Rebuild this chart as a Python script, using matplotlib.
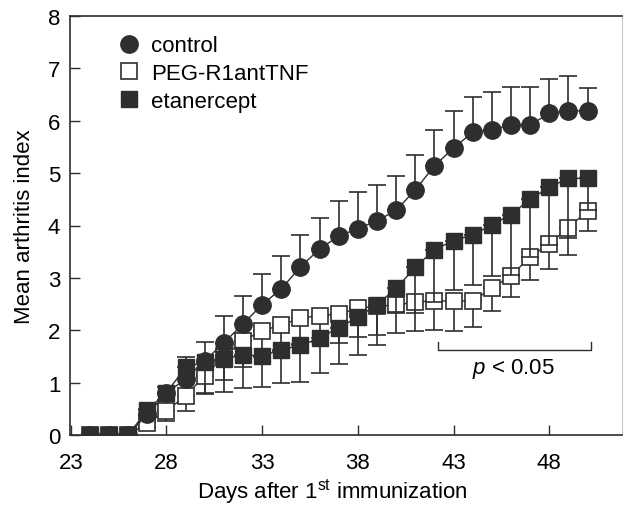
import matplotlib
matplotlib.use('Agg')
import matplotlib.pyplot as plt
from matplotlib.lines import Line2D

plt.rcParams['font.family'] = ['Liberation Sans', 'DejaVu Sans']
plt.rcParams['mathtext.fontset'] = 'custom'
plt.rcParams['mathtext.rm'] = 'Liberation Sans'
plt.rcParams['mathtext.it'] = 'Liberation Sans:italic'

# days after 1st immunization
days = list(range(24, 51))

# mean arthritis index (days 24..50)
control = [0, 0, 0, 0.40, 0.80, 1.07, 1.42, 1.76, 2.12, 2.49, 2.79, 3.21, 3.55, 3.80,
           3.94, 4.09, 4.29, 4.68, 5.14, 5.48, 5.78, 5.83, 5.92, 5.92, 6.14, 6.19, 6.19]
control_err = [0, 0, 0, 0.10, 0.12, 0.42, 0.36, 0.51, 0.54, 0.58, 0.62, 0.61, 0.60, 0.67,
               0.70, 0.68, 0.65, 0.66, 0.68, 0.70, 0.68, 0.71, 0.73, 0.73, 0.65, 0.67, 0.43]

peg = [0, 0, 0, 0.23, 0.46, 0.75, 1.13, 1.50, 1.80, 1.99, 2.10, 2.23, 2.28, 2.31,
       2.42, 2.46, 2.48, 2.54, 2.56, 2.56, 2.56, 2.80, 3.04, 3.40, 3.65, 3.96, 4.28]
peg_err = [0, 0, 0, 0.08, 0.19, 0.30, 0.35, 0.45, 0.51, 0.50, 0.50, 0.50, 0.50, 0.55,
           0.54, 0.56, 0.54, 0.56, 0.56, 0.57, 0.49, 0.44, 0.41, 0.44, 0.49, 0.52, 0.39]

etanercept = [0, 0, 0, 0.48, 0.81, 1.29, 1.40, 1.45, 1.53, 1.51, 1.63, 1.71, 1.85, 2.05,
              2.25, 2.49, 2.80, 3.20, 3.54, 3.71, 3.82, 4.01, 4.21, 4.50, 4.73, 4.90, 4.90]
etanercept_err = [0, 0, 0, 0.10, 0.15, 0.20, 0.60, 0.62, 0.64, 0.59, 0.63, 0.70, 0.66, 0.70,
                  0.72, 0.77, 0.45, 0.88, 1.00, 0.94, 0.96, 0.97, 1.15, 1.10, 1.10, 1.13, 0.60]

xticks = [23, 28, 33, 38, 43, 48]
yticks = [0, 1, 2, 3, 4, 5, 6, 7, 8]

dark = '#2e2e2e'
fs = 16
fig = plt.figure(figsize=(6.24, 5.06), dpi=100)
ax = fig.add_axes([70 / 624, 70 / 506, 552 / 624, 419 / 506])

zeros = [0] * len(days)
sq, circ = 11.5, 12.5
# PEG-R1antTNF: open squares, error bars downwards
ax.errorbar(days, peg, yerr=[peg_err, zeros], fmt='s-', color=dark, lw=1.0,
            ms=sq, mfc='white', mec=dark, mew=1.2, ecolor=dark, elinewidth=1.2,
            capsize=6.5, capthick=1.2, zorder=3)
# control: filled circles, error bars upwards
ax.errorbar(days, control, yerr=[zeros, control_err], fmt='o-', color=dark, lw=1.0,
            ms=circ, mfc=dark, mec=dark, ecolor=dark, elinewidth=1.2,
            capsize=6.5, capthick=1.2, zorder=4)
# etanercept: filled squares, error bars downwards
ax.errorbar(days, etanercept, yerr=[etanercept_err, zeros], fmt='s-', color=dark, lw=1.0,
            ms=sq, mfc=dark, mec=dark, ecolor=dark, elinewidth=1.2,
            capsize=6.5, capthick=1.2, zorder=5)

# significance bracket
ax.plot([42.2, 42.2, 50.2, 50.2], [1.77, 1.63, 1.63, 1.77], color=dark, lw=1.0)
ax.text(46.1, 1.28, '$p$ < 0.05', ha='center', va='center', fontsize=fs)

ax.set_xlim(22.96, 51.8)
ax.set_ylim(0, 8)
ax.set_xticks(xticks)
ax.set_yticks(yticks)
ax.tick_params(direction='in', length=7, width=1.0, labelsize=fs, color=dark)
ax.tick_params(axis='x', pad=12)
ax.tick_params(axis='y', pad=7)
for s in ['left', 'bottom', 'top']:
    ax.spines[s].set_color(dark)
    ax.spines[s].set_linewidth(1.2)
ax.spines['right'].set_color('#c8c8c8')
ax.spines['right'].set_linewidth(0.8)

ax.set_xlabel('Days after 1$^{\\rm st}$ immunization', fontsize=fs)
ax.xaxis.set_label_coords(0.475, -0.098)
ax.set_ylabel('Mean arthritis index', fontsize=fs)
ax.yaxis.set_label_coords(-0.063, 0.5)

handles = [
    Line2D([], [], ls='none', marker='o', ms=circ, mfc=dark, mec=dark),
    Line2D([], [], ls='none', marker='s', ms=sq, mfc='white', mec=dark, mew=1.2),
    Line2D([], [], ls='none', marker='s', ms=sq, mfc=dark, mec=dark),
]
ax.legend(handles, ['control', 'PEG-R1antTNF', 'etanercept'], loc='upper left',
          bbox_to_anchor=(0.07, 0.975), frameon=False, fontsize=fs,
          handlelength=1.0, handletextpad=0.5, labelspacing=0.3, borderaxespad=0)

fig.savefig('out.png', dpi=100)
